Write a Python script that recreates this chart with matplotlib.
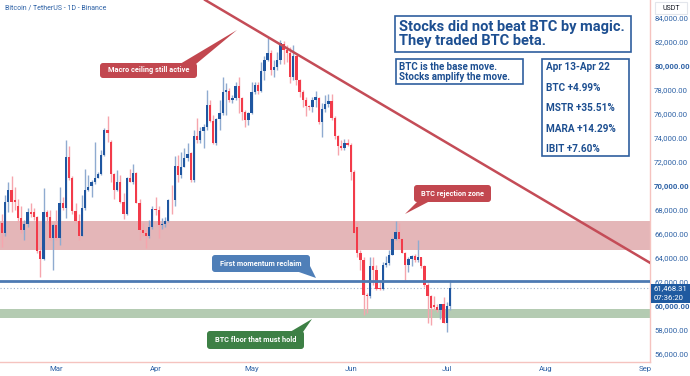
import numpy as np
import matplotlib
matplotlib.use("Agg")
import matplotlib.pyplot as plt
from matplotlib.patches import FancyBboxPatch, Polygon, Rectangle

plt.rcParams['font.family'] = ['Roboto', 'DejaVu Sans']

# daily BTC/USDT candles, day 0 = Mar 1, last candle = Jul 2
opens = [68700, 66900, 66100, 68700, 69650, 68850, 68300, 67300, 66300, 66850,
         67800, 67800, 67450, 64550, 63950, 67800, 67400, 65700, 66750, 65650,
         68600, 68150, 72400, 70700, 67950, 67100, 65850, 68200, 69700, 70000,
         70350, 70700, 71000, 72600, 74650, 73650, 71000, 69700, 70300, 68700,
         67700, 70700, 70350, 71100, 68600, 66300, 66100, 65850, 66600, 68050,
         68000, 66750, 66850, 67100, 68850, 68800, 71650, 70900, 71600, 72300,
         72750, 70500, 74150, 73850, 74550, 74950, 76750, 75450, 73550, 75550,
         76050, 77850, 77950, 77150, 77300, 78350, 77300, 76200, 75500, 76050,
         77850, 78400, 77950, 79550, 80500, 81100, 79700, 79900, 80500, 81850,
         81350, 81050, 79100, 80800, 78850, 77850, 77200, 76650, 76550, 77200,
         77300, 75300, 76450, 76850, 77050, 75650, 74150, 73350, 73200, 73550,
         73400, 71200, 66600, 64400, 63850, 60900, 60800, 63300, 63000, 61450,
         61400, 63400, 63550, 64250, 65550, 66200, 65550, 64450, 63400, 63950,
         64150, 63850, 64050, 63300, 61750, 60800, 60100, 59950, 59700, 60200,
         58600, 60000]
highs = [68950, 67700, 69250, 70350, 70800, 69950, 68950, 68300, 67150, 68150,
         68550, 68150, 67500, 64950, 69800, 68000, 68000, 66800, 68000, 69900,
         69100, 73850, 73300, 70800, 68550, 67700, 69250, 71450, 70900, 70500,
         73700, 71200, 73000, 74800, 75800, 73800, 71050, 71300, 70900, 69400,
         70750, 71450, 71850, 71200, 68900, 66900, 66450, 67150, 68300, 69100,
         68300, 67300, 67450, 68900, 70100, 72500, 72600, 72850, 73150, 73550,
         72850, 74650, 75650, 74950, 75200, 78000, 77150, 75900, 75700, 77150,
         79100, 78550, 78150, 77600, 78700, 79100, 77450, 76350, 76200, 78700,
         78700, 78700, 80350, 80800, 82450, 81350, 80500, 81200, 82150, 82050,
         81750, 81600, 81750, 80900, 78900, 78000, 77450, 76750, 77450, 77950,
         77450, 76900, 77600, 77700, 77700, 75800, 74250, 73850, 73950, 73950,
         73550, 71300, 67000, 64650, 64050, 61050, 64050, 64050, 63400, 62000,
         63700, 64150, 64650, 65650, 67100, 66900, 65650, 64500, 64100, 64250,
         64300, 65500, 64100, 63400, 61900, 60900, 60850, 60200, 60200, 60750,
         60350, 62150]
lows = [65200, 64950, 65800, 67850, 67850, 68000, 67000, 66050, 65500, 66600,
        67450, 67150, 64400, 62450, 63850, 66900, 65500, 63000, 65500, 65100,
        68000, 67300, 70500, 67700, 66900, 65500, 65800, 68000, 69550, 69100,
        70200, 70650, 70900, 72500, 73700, 70350, 68950, 69550, 68550, 67250,
        67600, 70300, 70200, 68550, 65500, 65800, 64800, 65650, 66450, 67600,
        65650, 66450, 66600, 67000, 67700, 68300, 70350, 70650, 71550, 72050,
        70350, 70350, 73550, 73550, 73150, 74650, 75300, 73500, 73400, 74650,
        75900, 75900, 77000, 76900, 77150, 76100, 75500, 74950, 75100, 76000,
        77700, 77700, 77850, 78850, 80450, 79250, 79100, 79650, 80200, 80200,
        80350, 78550, 78850, 78400, 77450, 76600, 75800, 76350, 76200, 76600,
        75200, 74100, 76200, 76600, 75500, 73950, 72600, 73000, 73000, 73300,
        70500, 66050, 64100, 63000, 59250, 59400, 60650, 61750, 61350, 61350,
        61350, 63250, 63400, 64250, 65500, 65350, 64400, 62150, 62850, 63300,
        63700, 63700, 63200, 61600, 58550, 58400, 59650, 59500, 58950, 58550,
        57800, 59650]
closes = [66050, 66050, 68700, 69650, 68700, 68700, 67300, 66350, 66850, 67850,
          67650, 67450, 64550, 63950, 67800, 67400, 65700, 66750, 65650, 68600,
          68150, 72400, 70700, 67950, 67100, 65850, 68200, 69700, 69950, 70350,
          70700, 71000, 72600, 74650, 74400, 71000, 69700, 70300, 68700, 67700,
          70700, 70350, 71100, 68600, 66300, 66100, 65850, 66600, 68050, 68000,
          66750, 66850, 67100, 68850, 68800, 71650, 70900, 71600, 72300, 72700,
          70500, 74150, 73850, 74550, 74950, 76750, 75450, 73550, 75550, 76050,
          77850, 78000, 77150, 77300, 78350, 77300, 76200, 75500, 76050, 77850,
          78400, 77950, 79550, 80500, 81100, 79700, 79900, 80500, 81900, 81350,
          81050, 79100, 80800, 78850, 77850, 77200, 76650, 76550, 77200, 77450,
          75300, 76450, 76850, 77050, 75650, 74150, 73350, 73200, 73600, 73400,
          71200, 66100, 64400, 63850, 60900, 60800, 63300, 63000, 61450, 61400,
          63400, 63550, 64250, 65550, 66200, 65550, 64450, 63400, 63950, 64150,
          63850, 64050, 63300, 61750, 60800, 59800, 59950, 59700, 60200, 58600,
          60000, 61468.31]

last_day = 123
month_days = [0, 31, 61, 92, 122, 153, 184]
month_labels = ["Mar", "Apr", "May", "Jun", "Jul", "Aug", "Sep"]
price_ticks = list(range(56000, 86000, 2000))
bold_ticks = [60000, 70000, 80000]

rejection_zone = (64700, 67100)
floor_zone = (59000, 59750)
reclaim_level = 62100
last_price = 61468.31
last_time = "07:36:20"
trend_days = [46.5, 185.5]
trend_prices = [85500, 63600]

headline = "Stocks did not beat BTC by magic.\nThey traded BTC beta."
subline = "BTC is the base move.\nStocks amplify the move."
perf_period = "Apr 13-Apr 22"
perf_names = ["BTC", "MSTR", "MARA", "IBIT"]
perf_values = [4.99, 35.51, 14.29, 7.60]

UP, DOWN = "#1f56a0", "#f23b4a"
UP_W, DOWN_W = "#8fabd0", "#f6a5ad"
AXIS_BLUE = "#2e62a6"
BOX_BLUE = "#1d4f91"

W, H = 690, 376
fig = plt.figure(figsize=(W / 100, H / 100), dpi=100)
ax = fig.add_axes([0, 14 / H, 650 / W, 362 / H])

n = len(opens)
days = np.arange(last_day - n + 1, last_day + 1)
o = np.array(opens, float)
c = np.array(closes, float)
up = c >= o

ax.axhspan(*rejection_zone, color="#e4b6b8", lw=0, zorder=0)
ax.axhspan(*floor_zone, color="#b4cbb2", lw=0, zorder=0)

ax.vlines(days, lows, highs, colors=np.where(up, UP_W, DOWN_W), lw=1, zorder=2)
ax.bar(days, np.maximum(np.abs(c - o), 70), bottom=np.minimum(o, c), width=0.72,
       color=np.where(up, UP, DOWN), lw=0, zorder=3)

ax.axhline(reclaim_level, color="#4d7ab3", lw=2, zorder=4)
ax.axhline(last_price, color="#9fb3cc", lw=0.8, ls=(0, (1, 2)), zorder=1)
ax.plot(trend_days, trend_prices, color="#c44c57", lw=1.8, zorder=5)

ax.set_xlim(-17.6, 185.5)
ax.set_ylim(55333, 85500)
ax.yaxis.tick_right()
ax.set_yticks(price_ticks, [f"{p:,.2f}" for p in price_ticks])
for t, lbl in zip(price_ticks, ax.get_yticklabels()):
    if t in bold_ticks:
        lbl.set_fontweight("bold")
        lbl.set_color(BOX_BLUE)
ax.set_xticks(month_days, month_labels)
ax.tick_params(axis="y", length=0, pad=3, labelsize=5.6, labelcolor=AXIS_BLUE)
ax.tick_params(axis="x", length=0, pad=3, labelsize=5.6, labelcolor=AXIS_BLUE)
for s in ["top", "left"]:
    ax.spines[s].set_visible(False)
for s in ["right", "bottom"]:
    ax.spines[s].set_color("#f5c3bf")
    ax.spines[s].set_linewidth(1)

# overlay in pixel coordinates for boxes and callouts
ov = fig.add_axes([0, 0, 1, 1], zorder=10)
ov.set_xlim(0, W)
ov.set_ylim(H, 0)
ov.axis("off")
ov.patch.set_alpha(0)

ov.text(5, 8, "Bitcoin / TetherUS - 1D - Binance", fontsize=5, color=AXIS_BLUE,
        va="center", ha="left")


def callout(text, x0, y0, x1, y1, tail, color):
    ov.add_patch(FancyBboxPatch((x0, y0), x1 - x0, y1 - y0,
                                boxstyle="round,pad=0,rounding_size=3",
                                fc=color, ec="none"))
    ov.add_patch(Polygon(tail, closed=True, fc=color, ec="none"))
    ov.text((x0 + x1) / 2, (y0 + y1) / 2, text, color="white", fontsize=5.3,
            fontweight="bold", ha="center", va="center")


callout("Macro ceiling still active", 100, 63, 197, 78,
        [(180, 64), (196, 64), (237, 30)], "#c2474f")
callout("BTC rejection zone", 414, 185, 491, 202,
        [(418, 201), (430, 201), (405, 214)], "#c2474f")
callout("First momentum reclaim", 212, 255, 310, 272,
        [(296, 271), (309, 264), (316, 278)], "#4f7fb8")
callout("BTC floor that must hold", 207, 331, 304, 349,
        [(290, 332), (303, 332), (312, 319)], "#3d8045")


def text_box(x0, y0, x1, y1):
    ov.add_patch(Rectangle((x0, y0), x1 - x0, y1 - y0, fc="white",
                           ec="#2f5f9e", lw=1.2))


text_box(395, 16, 631, 52)
ov.text(399, 34, headline, fontsize=10.5, fontweight="bold", color=BOX_BLUE,
        va="center", ha="left", linespacing=1.0)
text_box(396, 59, 523, 84)
ov.text(399, 71.5, subline, fontsize=7, fontweight="bold", color=BOX_BLUE,
        va="center", ha="left", linespacing=1.0)
text_box(542, 59, 629, 156)
perf_lines = [perf_period] + [f"{nm} +{v:.2f}%" for nm, v in zip(perf_names, perf_values)]
for i, line in enumerate(perf_lines):
    ov.text(546, 67 + i * 20.6, line, fontsize=7.2, fontweight="bold",
            color=BOX_BLUE, va="center", ha="left")

# price axis widgets
ov.add_patch(Rectangle((655, 2), 32, 12, fc="white", ec="#e3e6ec", lw=0.8))
ov.text(671, 8, "USDT", fontsize=5, color="#131722", ha="center", va="center")
ov.add_patch(Rectangle((651, 284), 39, 19, fc="#1f5aa0", ec="none"))
ov.text(654, 288.5, f"{last_price:,.2f}", fontsize=5.6, color="white", va="center")
ov.text(654, 297.5, last_time, fontsize=5.6, color="white", va="center")

fig.savefig("out.png", dpi=100)
